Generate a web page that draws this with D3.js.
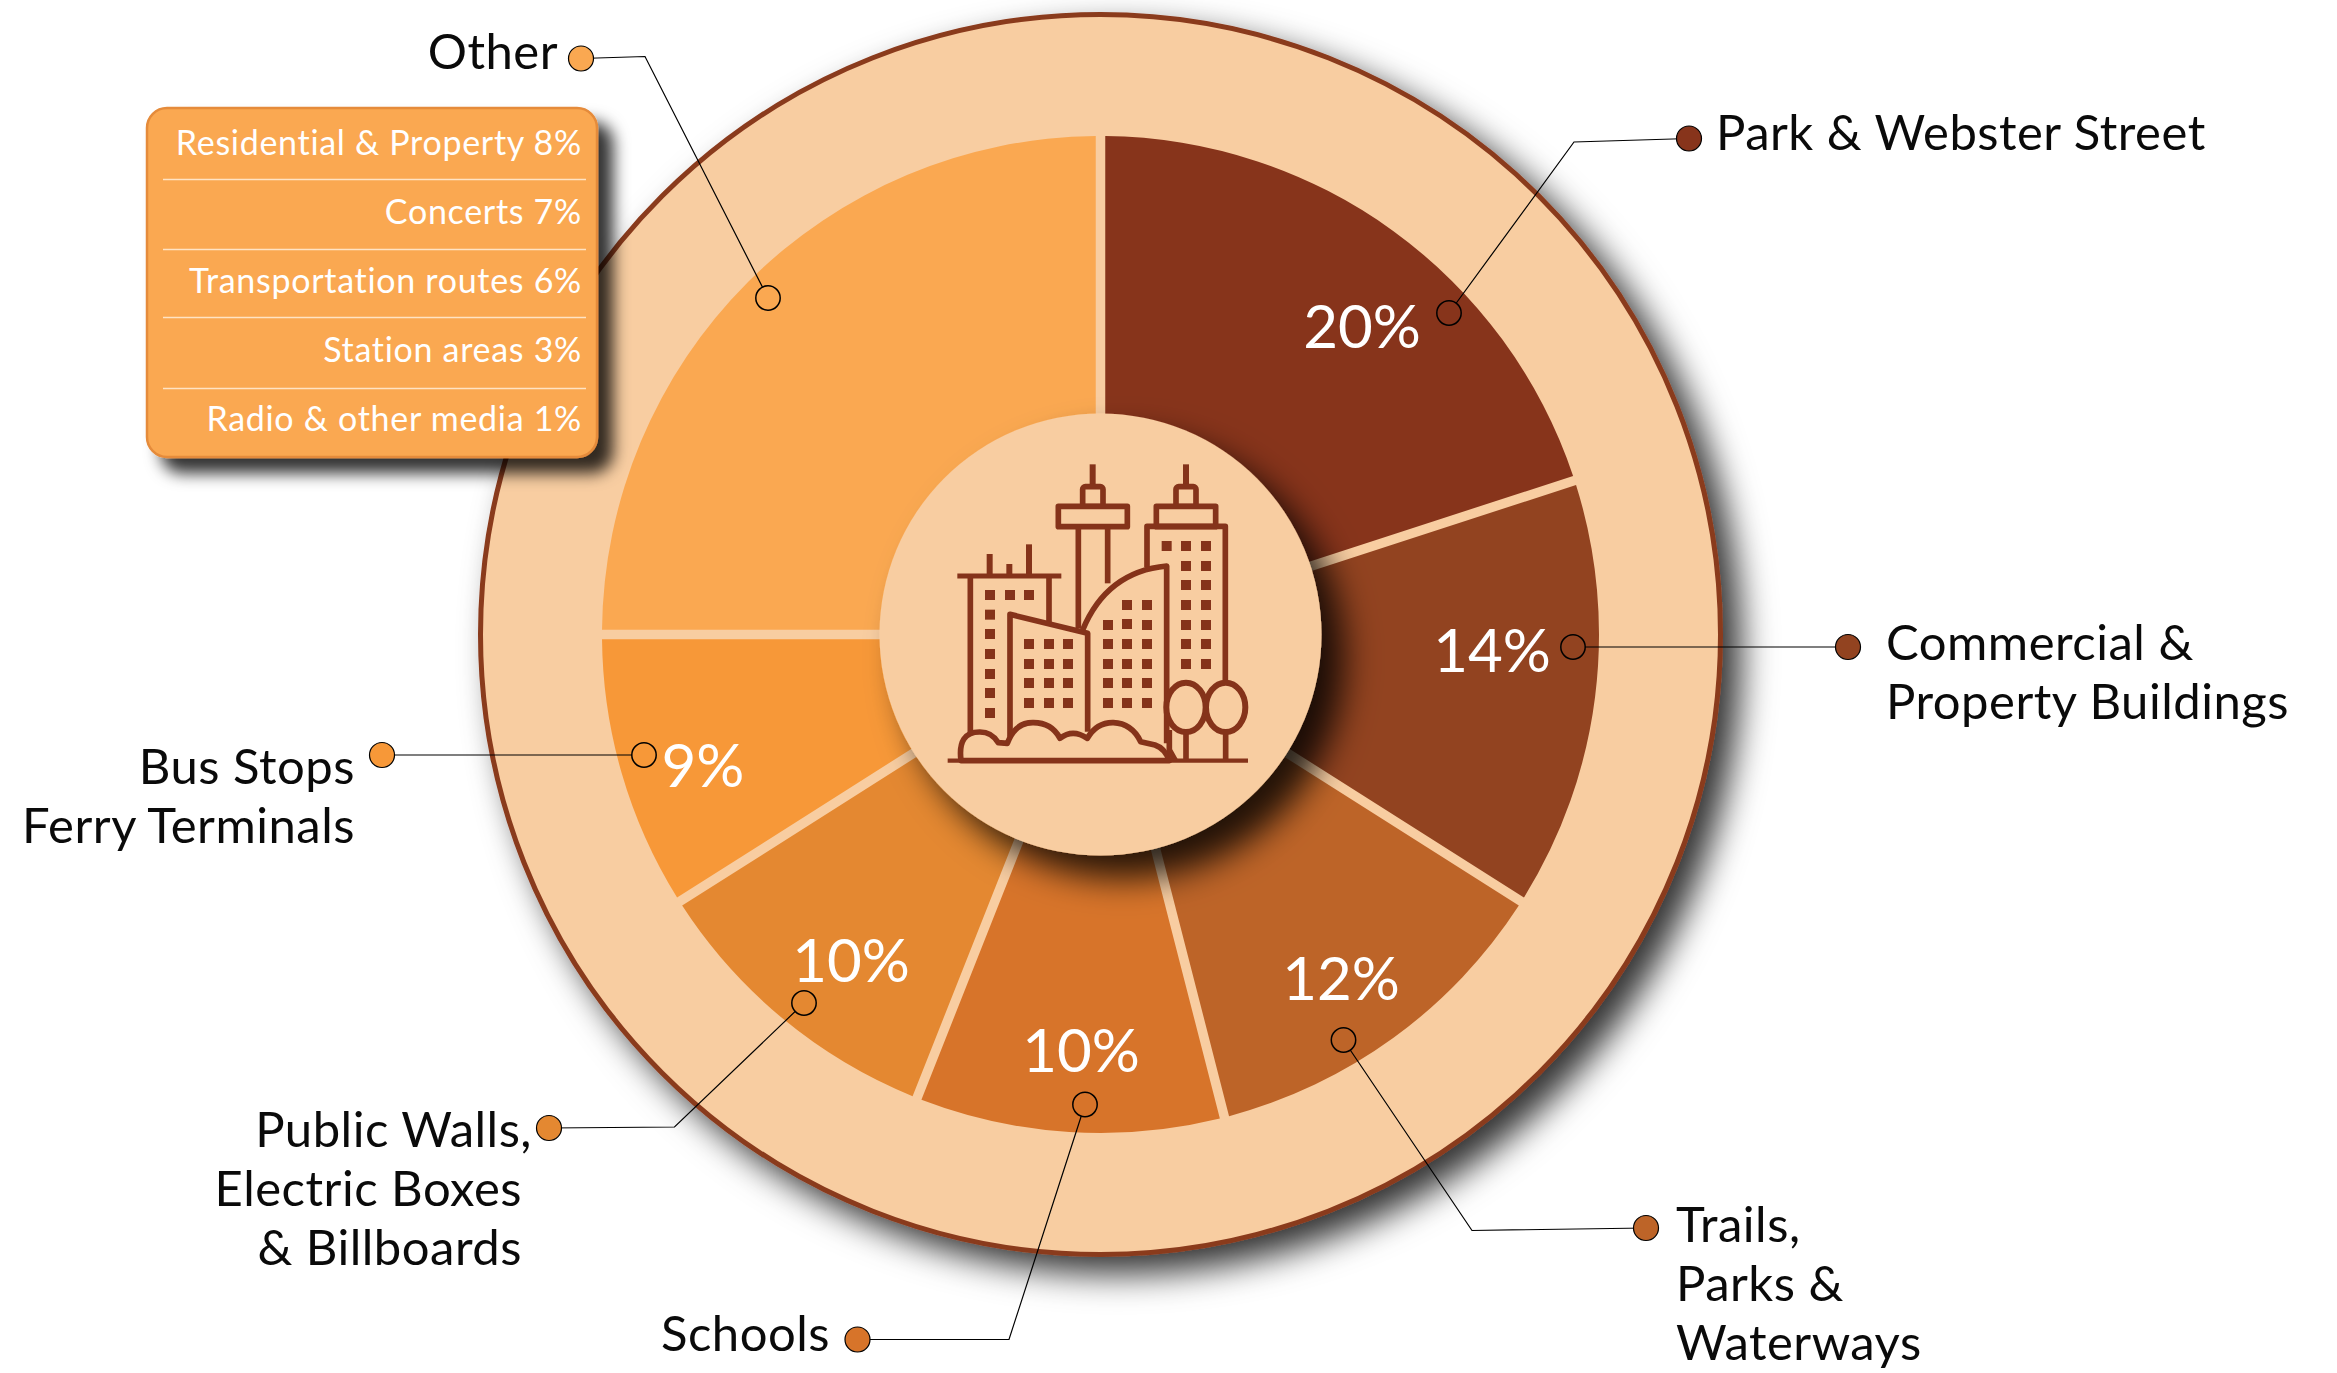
<!DOCTYPE html>
<html><head><meta charset="utf-8">
<script src="https://cdn.jsdelivr.net/npm/d3@7/dist/d3.min.js"></script>
<style>
html,body{margin:0;padding:0;background:#fff;}
svg{display:block;}
text{font-family:"Lato","Noto Sans",sans-serif;}
</style></head><body>
<svg id="c" width="2337" height="1373"></svg>
<script>
// ---- data ----
const categories=["Park & Webster Street","Commercial & Property Buildings","Trails, Parks & Waterways","Schools","Public Walls, Electric Boxes & Billboards","Bus Stops Ferry Terminals","Other"];
const values=[20,14,12,10,10,9,25];
const sliceColors=["#87341B","#924320","#BD6428","#D7742A","#E48831","#F79838","#FAA851"];
const otherItems=["Residential & Property","Concerts","Transportation routes","Station areas","Radio & other media"];
const otherValues=[8,7,6,3,1];
// ---- label text lines ----
const labelLines=[["Park & Webster Street"],["Commercial &","Property Buildings"],["Trails,","Parks &","Waterways"],["Schools"],["Public Walls,","Electric Boxes","& Billboards"],["Bus Stops","Ferry Terminals"],["Other"]];
// ---- annotation layout (not data) ----
const anchorPts=[[1449,313],[1573,647],[1343.5,1040],[1085,1104.5],[804,1003],[644,755],[768,298]];
const kneePts=[[1574,142],null,[1472,1230.5],[1009,1339.5],[674.5,1127],null,[645,56.5]];
const dotPts=[[1689,138.5],[1848,647],[1646,1228],[857.5,1339.5],[549,1128],[382,755],[581,58.5]];
const labelAnchor=["start","start","start","end","end","end","end"];
const labelX=[[1716],[1886,1886],[1676,1676,1676],[830],[532,522,522],[355,355],[558]];
const labelY=[[149.5],[659.5,719],[1241.5,1301,1360],[1350.5],[1146.5,1206,1265],[783.5,843],[68.5]];
const pctX=[1362,1492,1341,1081,851,703];
const pctY=[347.5,671.5,1000,1071.5,982,786.5];

const RING="#F8CDA1", EDGE="#8A3A1D", cx=1100.5, cy=634.5;
const svg=d3.select("#c");
const defs=svg.append("defs");
function shadow(id,dx,dy,sd,op){
  const f=defs.append("filter").attr("id",id).attr("x","-30%").attr("y","-30%").attr("width","170%").attr("height","170%");
  f.append("feDropShadow").attr("dx",dx).attr("dy",dy).attr("stdDeviation",sd).attr("flood-color","#000").attr("flood-opacity",op);
}
shadow("sRing",18,17,17,.8);
shadow("sHub",23,23,17,.82);
shadow("sBox",15,15,8,.8);

const color=d3.scaleOrdinal(categories,sliceColors);
const arcs=d3.pie().sort(null).value((d,i)=>values[i])(categories);
const arc=d3.arc().innerRadius(120).outerRadius(498.5).padRadius(498.5).padAngle(9.5/498.5);

const g=svg.append("g").attr("transform",`translate(${cx},${cy})`);
g.append("circle").attr("r",620).attr("fill",RING).attr("stroke",EDGE).attr("stroke-width",5).attr("filter","url(#sRing)");
g.selectAll("path.slice").data(arcs).join("path").attr("class","slice").attr("d",arc).attr("fill",d=>color(d.data));
g.append("circle").attr("r",221).attr("fill",RING).attr("filter","url(#sHub)");

// ---- city icon ----
const ic=svg.append("g").attr("transform","translate(900,430) scale(0.33333)").attr("fill","none").attr("stroke","#85331A").attr("stroke-width",17).attr("stroke-linejoin","round");
const ICON="#85331A";
function win(x,y){ic.append("rect").attr("x",x-15).attr("y",y-15).attr("width",30).attr("height",30).attr("fill",ICON).attr("stroke","none");}
function ln(d,w){const p=ic.append("path").attr("d",d); if(w)p.attr("stroke-width",w); return p;}
// back-left building
ln("M172 438H484",15); ln("M269 372V438",18); ln("M328 402V438",18); ln("M387 343V438",18);
ln("M211 438V910"); ln("M447 438V580");
[270,330,387].forEach(x=>win(x,495));
[554,612,672,732,789,849].forEach(y=>win(270,y));
// tower
ln("M578 103V165",18);
ic.append("rect").attr("x",548).attr("y",170).attr("width",61).attr("height",60).attr("rx",8).attr("fill",RING);
ic.append("rect").attr("x",475).attr("y",229).attr("width",207).attr("height",61).attr("fill",RING);
ln("M535 290V595"); ln("M623 290V460");
// right tower
ln("M858 103V165",18);
ic.append("rect").attr("x",828).attr("y",170).attr("width",60).attr("height",60).attr("rx",8).attr("fill",RING);
ic.append("rect").attr("x",769).attr("y",229).attr("width",178).attr("height",61).attr("fill",RING);
ln("M741 412V289H976V760");
[800,858,918].forEach(x=>win(x,348));
[408,465,525,585,642,702].forEach(y=>{win(858,y);win(918,y);});
// curved building
ic.append("path").attr("d","M553 600Q620 425 800 408V945L563 900Z").attr("fill",RING).attr("stroke","none");
ln("M548 600Q620 425 800 408V940");
[[681,525],[741,525],[624,585],[681,582],[741,585]].forEach(p=>win(p[0],p[1]));
[642,702,759,819].forEach(y=>[624,681,741].forEach(x=>win(x,y)));
// front building
ic.append("path").attr("d","M330 553L563 610V905L330 905Z").attr("fill",RING).attr("stroke","none");
ln("M330 920V553L563 610V905");
[642,702,759,819].forEach(y=>[387,447,504].forEach(x=>win(x,y)));
// bushes
ic.append("path").attr("d","M183 992Q172 905 240 906Q275 906 295 938L322 940Q345 877 400 878Q455 878 480 925Q518 895 562 925Q590 877 640 878Q695 880 722 935L765 945Q795 955 808 992Z").attr("fill",RING);
// trees
ln("M808 900V960L826 992");
ln("M858 905V992"); ln("M977 905V992");
ic.append("ellipse").attr("cx",858).attr("cy",832).attr("rx",59).attr("ry",74).attr("fill",RING).attr("stroke-width",18);
ic.append("ellipse").attr("cx",977).attr("cy",832).attr("rx",59).attr("ry",74).attr("fill",RING).attr("stroke-width",18);
ln("M143 992H1044",13);

// ---- leaders ----
const lead=svg.append("g");
categories.forEach((c,i)=>{
  const pts=[anchorPts[i]]; if(kneePts[i])pts.push(kneePts[i]); pts.push(dotPts[i]);
  lead.append("path").attr("d",d3.line()(pts)).attr("fill","none").attr("stroke","#000").attr("stroke-width",1.2);
  lead.append("circle").attr("cx",anchorPts[i][0]).attr("cy",anchorPts[i][1]).attr("r",12.2).attr("fill",color(c)).attr("stroke","#000").attr("stroke-width",1.5);
  lead.append("circle").attr("cx",dotPts[i][0]).attr("cy",dotPts[i][1]).attr("r",12.5).attr("fill",color(c)).attr("stroke","#000").attr("stroke-width",1.2);
  labelLines[i].forEach((t,j)=>{
    lead.append("text").attr("x",labelX[i][j]).attr("y",labelY[i][j]).attr("text-anchor",labelAnchor[i])
      .attr("font-size",49).attr("letter-spacing",0.5).attr("fill","#0a0a0a").text(t);
  });
});
// ---- percent labels ----
svg.append("g").selectAll("text").data(values.slice(0,6)).join("text")
  .attr("x",(d,i)=>pctX[i]).attr("y",(d,i)=>pctY[i]).attr("text-anchor","middle")
  .attr("font-size",60).attr("font-weight",400).attr("fill","#fff").text(d=>d+"%");

// ---- other breakdown box ----
const box=svg.append("g");
box.append("rect").attr("x",147).attr("y",108).attr("width",450).attr("height",349).attr("rx",20)
  .attr("fill","#FAA851").attr("stroke","#E58B3A").attr("stroke-width",2.5).attr("filter","url(#sBox)");
const rowBase=[155,224,292.7,361.7,431], ruleY=[179.5,249.5,317.5,388.5];
ruleY.forEach(y=>box.append("line").attr("x1",163).attr("x2",586).attr("y1",y).attr("y2",y).attr("stroke","#FFE3C4").attr("stroke-width",1.4));
otherItems.forEach((t,i)=>box.append("text").attr("x",582).attr("y",rowBase[i]).attr("text-anchor","end")
  .attr("font-size",34).attr("letter-spacing",0.7).attr("fill","#fff").text(t+" "+otherValues[i]+"%"));
</script>
</body></html>
